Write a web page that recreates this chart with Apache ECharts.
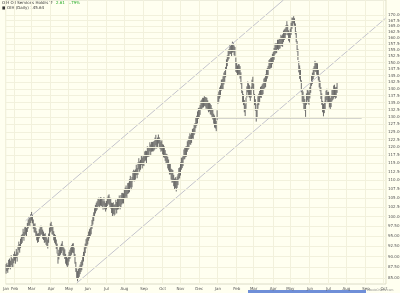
<!DOCTYPE html>
<html><head><meta charset="utf-8">
<script src="https://cdn.jsdelivr.net/npm/echarts@6/dist/echarts.min.js"></script>
<style>html,body{margin:0;padding:0;background:#fffff0;}#c{width:400px;height:293px;}</style>
</head><body><div id="c"></div>
<script>
const tickValues=[170,167.5,165,162.5,160,157.5,155,152.5,150,147.5,145,142.5,140,137.5,135,132.5,130,127.5,125,122.5,120,117.5,115,112.5,110,107.5,105,102.5,100,97.5,95,92.5,90,87.5,85];
const monthNames=['Jan','Feb','Mar','Apr','May','Jun','Jul','Aug','Sep','Oct','Nov','Dec'];
const firstDay='2005-01-18', lastDay='2006-10-04';
const lows=[86,86.6,86.2,87,87.4,87,88,87.5,87.3,88.4,89,88.3,89.6,88.8,90.4,91.5,90.9,92,93,93.3,
94.5,93.8,95,95.3,94.9,96,96.9,97.8,97.4,98.3,98.9,98.2,96.8,95.9,95.8,94.8,93.9,93.3,93.5,94.4,
95,95.3,95.4,94.3,94,93.3,93.4,92.8,92.4,91.9,93.3,94.8,95.9,96.3,95.4,95.3,93.9,93.3,92.9,91.8,
90.7,88.3,89.3,89.9,90.4,90.8,91.4,90.3,89.9,89.4,88.3,87.9,87.3,87.9,88.8,89.4,89.8,90.4,90.9,90.8,
89.9,88.3,86.4,84.9,84.3,85,85.3,85.9,86.4,86.8,87.9,88.8,89.9,90.8,91.9,92.3,92.9,93.8,94.4,94.8,
95.4,96.8,97.9,98.8,99.9,100.8,101.4,101.8,102.4,102.8,102.3,102.9,102.8,102.4,101.8,102.9,101.9,101.3,101.9,102.8,103.4,
103.1,102.3,102.1,100.9,100.1,100.6,100.2,100.5,101.8,100.8,
101.8,101.9,102.8,101.9,102.3,103.2,103.5,103.5,104.7,104.8,
105.4,104.7,106.1,106.3,106.6,107.9,107.2,108,109.7,109.8,
109.7,110.2,111.5,110.6,111.6,113.2,112.5,113.1,114.5,113.5,
114.4,114.2,115.6,115.9,115.1,116.9,117,117.1,118.7,117.6,
118.6,118.7,118.7,119,119.4,120.6,119.6,120.1,121.2,119.9,
119.4,118.6,118.9,117.8,116.9,116.7,115.8,114.8,114.8,113.5,
112.9,111.7,111.7,110.2,109.3,109.4,108.3,107.3,107.8,106.8,
107.8,108.6,110.3,110.6,111.4,113.1,113.6,114.2,116.2,116.3,
116.9,117.1,118.6,119.2,119.6,120.9,120.8,121.4,122.8,122.7,
123.9,124.5,126.2,127,127.8,129.3,129.7,130.7,132.4,132.4,
133.2,133.3,133.8,133.6,132.8,132.9,132.3,131.6,131.9,130.9,
130.6,129.6,129.1,127.7,126.4,126.1,125.2,128.9,134.6,135.3,
136.4,137.2,139.3,139.6,139.9,141.6,142.6,144.3,147.4,148.6,
150.8,151.5,153.4,153.4,152.6,154,154.1,152.9,152.4,146.4,
146,144.9,145.3,145.3,143.8,141.7,138.4,135.2,134.1,131.6,
130.3,132.8,136.8,138.7,137.2,136.8,135.6,136.8,139.5,140.2,
137.8,134.1,132.1,128.4,129.8,132.8,134.1,135.2,136.8,136.7,
137.5,138,139.7,140.2,140.6,142.7,143.8,144.7,147.1,147.1,
147.8,148,149.4,150.2,151.1,153.2,153.7,153.8,155.4,155,
155.5,155.7,156.9,156.6,156.4,158.3,159.2,159.7,161.3,162.6,
161.2,158.9,158.2,159.6,161.4,164,165.2,166.3,165.3,161.6,
158.3,154.4,151,146.2,143.7,142.7,138.7,135.3,134.7,132.6,
132.2,130,134.2,135.8,134.6,134.2,136.5,138.5,141.1,141.8,
143.6,144.6,146.6,146.3,145.3,145.2,143.1,140.5,139.1,136.3,
134.2,131.6,130.2,131.3,132.4,134.8,135.9,134.8,135,133.3,
132.5,133.4,135.4,135.9,136.4,137,136.4,136.7,138.5];
const highs=[88.2,88.5,88,89.2,89.5,89,90.3,89.6,89.4,90.6,91.2,90.5,91.8,91,92.6,93.6,93,94.3,95.2,95.5,
96.8,96,97.2,97.5,97,98.3,99.2,100.1,99.6,100.6,101.2,100.5,99.2,98.1,98.2,97,96.2,95.6,95.7,96.7,
97.2,97.6,97.5,96.6,96.1,95.5,95.7,95,94.6,94.1,95.6,97.1,98.2,98.6,97.7,97.5,96.2,95.5,95.2,94.1,
93.1,90.8,91.6,92.2,92.6,93.1,93.7,92.6,92.1,91.7,90.6,90.1,89.6,90.2,91.1,91.6,92.1,92.7,93.1,93.2,
92.1,90.6,88.7,87.2,86.6,87.1,87.6,88.1,88.7,89.1,90.2,91.1,92.2,93.1,94.2,94.6,95.2,96.1,96.7,97.1,
97.7,99.1,100.2,101.1,102.2,103.1,103.7,104.1,104.7,105.1,104.6,105.2,105.1,104.7,104.1,105.2,104.1,103.6,104.2,105.1,105.7,
106,105.1,105,103.7,103.6,103.8,103.1,103.3,104.5,103.9,
104.7,104.7,105.7,104.7,105.8,106.4,106.4,106.3,107.4,107.9,
108.5,107.7,109.2,109.3,110.3,111.3,110.3,111,112.6,113.1,
112.8,113.2,114.6,113.6,115.3,116.6,115.6,116.1,117.4,116.8,
117.5,117.2,118.7,118.9,118.8,120.3,120.1,120.1,121.6,120.9,
121.7,121.7,121.8,122,123.1,124,122.7,123.1,124.1,123.2,
122.7,121.8,122.2,121,120.8,120.3,119.1,118,117.9,117,
116.2,114.9,115,113.4,113.2,113,111.6,110.5,110.9,110.3,
111.1,111.8,113.6,113.8,115.3,116.7,116.9,117.4,119.3,119.8,
120.2,120.3,121.9,122.4,123.5,124.5,124.1,124.6,125.9,126.2,
127.4,127.9,129.7,130.4,131.9,133.1,133.2,134.1,135.7,136.1,
136.7,136.7,137.3,137,136.9,136.7,135.8,135,135.2,134.6,
134.1,133,132.6,131.1,130.5,129.9,128.7,132.3,137.9,139,
140.5,141.2,143.4,143.6,144.7,146.1,146.7,148.3,151.3,152.9,
154.9,155.5,157.5,157.4,157.4,158.5,158.2,156.9,156.3,152,
150.1,148.9,149.4,149.3,148.6,146.2,142.5,139.2,138,135.9,
134.4,136.8,140.9,142.7,142,141.3,139.7,140.8,143.4,144.5,
141.9,138.1,136.2,132.4,134.6,137.3,138.2,139.2,140.7,141,
141.6,142,143.8,144.2,145.4,147.2,147.9,148.7,151,151.4,
151.9,152,153.5,154.2,155.9,157.7,157.8,157.8,159.3,159.3,
160,160.1,161.4,161,161.6,163.2,163.7,164.1,165.6,167.3,
165.7,163.3,162.7,164,166.6,168.9,168.8,169.5,168.6,166.3,
162.8,158.8,155.5,150.6,148.9,147.6,143.2,139.7,139,137.3,
136.3,135.1,138.3,139.8,139.4,138.7,140.6,142.5,145,146.1,
147.7,148.6,150.7,150.3,150.1,149.7,147.2,144.5,143,140.6,
138.3,135.6,134.5,135.3,137.2,139.3,140,138.8,138.9,137.6,
136.6,137.4,139.5,139.9,141.2,141.5,140.5,140.7,142.4];
const upperChannel=[['2005-02-18',98.9],['2006-04-19',176.9]];
const lowerChannel=[['2005-05-13',83.9],['2006-10-04',168.6]];
const supportLine=[['2005-12-29',129.6],['2006-08-25',129.6]];
const headerName='OIH Oil Services Holdrs Tr';
const headerChange='2.61  1.79%';
const headerLegend='OIH (Daily) 145.64';

const dates=[];
for(let d=new Date(firstDay+'T00:00:00Z');d<=new Date(lastDay+'T00:00:00Z');d.setUTCDate(d.getUTCDate()+1)){
  const w=d.getUTCDay(); if(w>0&&w<6) dates.push(d.toISOString().slice(0,10));
}
const isMonthStart=i=>i===0||dates[i].slice(5,7)!==dates[i-1].slice(5,7);
const gridColor='#f2f1dc';
const FONT='DejaVu Sans';
const chart=echarts.init(document.getElementById('c'),null,{renderer:'canvas'});
chart.setOption({
  animation:false,
  backgroundColor:'#fffff0',
  grid:{left:0,right:14,top:0,bottom:9,show:true,borderColor:'#dcdcc8',borderWidth:1,backgroundColor:'#fffff0'},
  xAxis:{type:'category',data:dates,boundaryGap:true,
    axisLine:{show:false},axisTick:{show:false},
    axisLabel:{interval:(i)=>isMonthStart(i),formatter:v=>monthNames[+v.slice(5,7)-1],fontSize:4,color:'#555',margin:3,fontFamily:FONT,hideOverlap:false},
    splitLine:{show:true,interval:(i)=>isMonthStart(i),lineStyle:{color:gridColor,width:1}}},
  yAxis:{type:'log',position:'right',min:83.7,max:176.9,axisLabel:{show:false},splitLine:{show:false},axisLine:{show:false},axisTick:{show:false}},
  series:[
    {type:'line',data:[],silent:true,z:1,
     markLine:{silent:true,symbol:'none',animation:false,
       lineStyle:{color:gridColor,width:1,type:'solid'},
       label:{show:true,position:'end',distance:2,formatter:p=>Number(p.value).toFixed(2),fontSize:4,color:'#555',fontFamily:FONT},
       data:tickValues.map(v=>({yAxis:v}))}},
    {type:'custom',z:3,data:lows.map((l,i)=>[i,l,highs[i]]),encode:{x:0,y:[1,2]},
     renderItem:(params,api)=>{const a=api.coord([api.value(0),api.value(1)]),b=api.coord([api.value(0),api.value(2)]);
       return {type:'line',shape:{x1:a[0],y1:a[1],x2:b[0],y2:b[1]},style:{stroke:'#5c5c5c',lineWidth:0.9}};}},
    {type:'line',data:upperChannel,symbol:'none',z:4,lineStyle:{color:'#c4c4cc',width:1}},
    {type:'line',data:lowerChannel,symbol:'none',z:4,lineStyle:{color:'#c4c4cc',width:1}},
    {type:'line',data:supportLine,symbol:'none',z:4,lineStyle:{color:'#b4b4b4',width:1}}
  ],
  graphic:[
    {type:'text',left:2,top:1,style:{text:headerName,fontSize:4,fill:'#333',fontFamily:FONT}},
    {type:'text',left:56,top:1,style:{text:headerChange,fontSize:4,fill:'#22aa22',fontFamily:FONT}},
    {type:'text',left:2,top:6,style:{text:'\u25A0 '+headerLegend,fontSize:4,fill:'#333',fontFamily:FONT}},
    {type:'rect',left:248,top:290,shape:{width:118,height:3},style:{fill:'#6f8fd8'}},
    {type:'text',left:368,top:289,style:{text:'StockCharts.com',fontSize:3,fill:'#888',fontFamily:FONT}}
  ]
});
</script></body></html>
